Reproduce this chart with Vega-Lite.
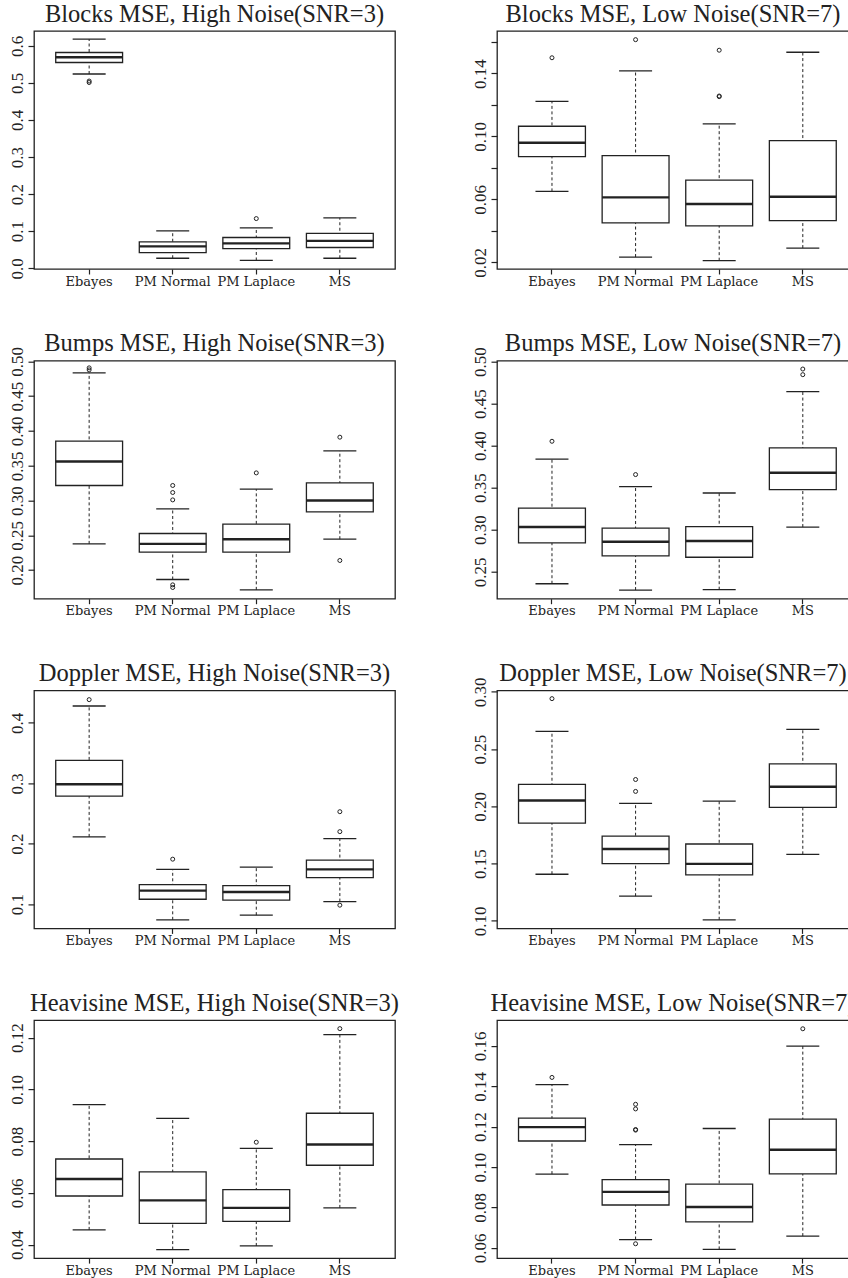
{
  "$schema": "https://vega.github.io/schema/vega-lite/v6.json",
  "padding": {"left": 7, "top": 0, "right": 0, "bottom": 0},
  "background": "white",
  "columns": 2,
  "bounds": "flush",
  "spacing": {"row": 91.7, "column": 102},
  "config": {
    "font": "Liberation Serif",
    "view": {"stroke": "#222", "strokeWidth": 1.3},
    "title": {"font": "Liberation Serif", "fontSize": 24.5, "fontWeight": "normal", "color": "#222", "offset": 4, "anchor": "middle"},
    "axis": {"domain": false, "grid": false, "tickColor": "#222", "tickSize": 5, "tickWidth": 1.2, "labelColor": "#222", "labelFont": "Liberation Serif", "title": null},
    "axisX": {"labelAngle": 0, "labelFont": "DejaVu Serif", "labelFontSize": 13, "labelPadding": 1, "bandPosition": 0.5},
    "axisY": {"labelAngle": 270, "labelAlign": "center", "labelBaseline": "bottom", "labelFontSize": 17, "labelPadding": 2, "tickSize": 6, "labelOverlap": false, "labelBound": false}
  },
  "datasets": {
    "box": [
      {"p": "bh", "m": "Ebayes", "lo": 0.524, "q1": 0.555, "md": 0.569, "q3": 0.582, "hi": 0.618},
      {"p": "bh", "m": "PM Normal", "lo": 0.027, "q1": 0.042, "md": 0.059, "q3": 0.071, "hi": 0.101},
      {"p": "bh", "m": "PM Laplace", "lo": 0.021, "q1": 0.053, "md": 0.067, "q3": 0.083, "hi": 0.109},
      {"p": "bh", "m": "MS", "lo": 0.027, "q1": 0.056, "md": 0.074, "q3": 0.094, "hi": 0.136},
      {"p": "bl", "m": "Ebayes", "lo": 0.0651, "q1": 0.0872, "md": 0.096, "q3": 0.1065, "hi": 0.1223},
      {"p": "bl", "m": "PM Normal", "lo": 0.0234, "q1": 0.0451, "md": 0.0613, "q3": 0.0878, "hi": 0.1417},
      {"p": "bl", "m": "PM Laplace", "lo": 0.0211, "q1": 0.0432, "md": 0.0571, "q3": 0.0722, "hi": 0.108},
      {"p": "bl", "m": "MS", "lo": 0.0291, "q1": 0.0465, "md": 0.0617, "q3": 0.0973, "hi": 0.1535},
      {"p": "uh", "m": "Ebayes", "lo": 0.2378, "q1": 0.3217, "md": 0.3562, "q3": 0.3853, "hi": 0.4835},
      {"p": "uh", "m": "PM Normal", "lo": 0.1866, "q1": 0.2259, "md": 0.2378, "q3": 0.2527, "hi": 0.2881},
      {"p": "uh", "m": "PM Laplace", "lo": 0.1717, "q1": 0.2259, "md": 0.2445, "q3": 0.2661, "hi": 0.3164},
      {"p": "uh", "m": "MS", "lo": 0.2445, "q1": 0.2838, "md": 0.3001, "q3": 0.3254, "hi": 0.3714},
      {"p": "ul", "m": "Ebayes", "lo": 0.2358, "q1": 0.2843, "md": 0.3032, "q3": 0.3257, "hi": 0.3839},
      {"p": "ul", "m": "PM Normal", "lo": 0.2283, "q1": 0.2689, "md": 0.2858, "q3": 0.302, "hi": 0.3512},
      {"p": "ul", "m": "PM Laplace", "lo": 0.2287, "q1": 0.2673, "md": 0.2866, "q3": 0.3036, "hi": 0.3437},
      {"p": "ul", "m": "MS", "lo": 0.3032, "q1": 0.3476, "md": 0.3677, "q3": 0.3973, "hi": 0.4643},
      {"p": "dh", "m": "Ebayes", "lo": 0.2113, "q1": 0.2788, "md": 0.2985, "q3": 0.338, "hi": 0.4278},
      {"p": "dh", "m": "PM Normal", "lo": 0.0742, "q1": 0.1082, "md": 0.1225, "q3": 0.1324, "hi": 0.1576},
      {"p": "dh", "m": "PM Laplace", "lo": 0.0819, "q1": 0.1066, "md": 0.1203, "q3": 0.1307, "hi": 0.1614},
      {"p": "dh", "m": "MS", "lo": 0.1044, "q1": 0.1439, "md": 0.1576, "q3": 0.1729, "hi": 0.2086},
      {"p": "dl", "m": "Ebayes", "lo": 0.1407, "q1": 0.1854, "md": 0.2051, "q3": 0.2191, "hi": 0.2655},
      {"p": "dl", "m": "PM Normal", "lo": 0.1215, "q1": 0.15, "md": 0.1627, "q3": 0.174, "hi": 0.2025},
      {"p": "dl", "m": "PM Laplace", "lo": 0.1009, "q1": 0.1401, "md": 0.1497, "q3": 0.1671, "hi": 0.2045},
      {"p": "dl", "m": "MS", "lo": 0.1581, "q1": 0.199, "md": 0.2171, "q3": 0.2371, "hi": 0.2672},
      {"p": "hh", "m": "Ebayes", "lo": 0.0457, "q1": 0.0588, "md": 0.0654, "q3": 0.0731, "hi": 0.0941},
      {"p": "hh", "m": "PM Normal", "lo": 0.0381, "q1": 0.0482, "md": 0.0571, "q3": 0.0681, "hi": 0.0888},
      {"p": "hh", "m": "PM Laplace", "lo": 0.0395, "q1": 0.049, "md": 0.0542, "q3": 0.0613, "hi": 0.0772},
      {"p": "hh", "m": "MS", "lo": 0.0542, "q1": 0.0707, "md": 0.0787, "q3": 0.0908, "hi": 0.1212},
      {"p": "hl", "m": "Ebayes", "lo": 0.0965, "q1": 0.1129, "md": 0.1198, "q3": 0.1242, "hi": 0.1408},
      {"p": "hl", "m": "PM Normal", "lo": 0.0641, "q1": 0.0812, "md": 0.0877, "q3": 0.0938, "hi": 0.1111},
      {"p": "hl", "m": "PM Laplace", "lo": 0.0592, "q1": 0.0728, "md": 0.0802, "q3": 0.0915, "hi": 0.1191},
      {"p": "hl", "m": "MS", "lo": 0.0658, "q1": 0.0966, "md": 0.1086, "q3": 0.1237, "hi": 0.1599}
    ],
    "out": [
      {"p": "bh", "m": "Ebayes", "v": 0.505},
      {"p": "bh", "m": "Ebayes", "v": 0.501},
      {"p": "bh", "m": "PM Laplace", "v": 0.134},
      {"p": "bl", "m": "Ebayes", "v": 0.150},
      {"p": "bl", "m": "PM Normal", "v": 0.1615},
      {"p": "bl", "m": "PM Laplace", "v": 0.1548},
      {"p": "bl", "m": "PM Laplace", "v": 0.1253},
      {"p": "bl", "m": "PM Laplace", "v": 0.1257},
      {"p": "uh", "m": "Ebayes", "v": 0.4907},
      {"p": "uh", "m": "Ebayes", "v": 0.4878},
      {"p": "uh", "m": "PM Normal", "v": 0.3217},
      {"p": "uh", "m": "PM Normal", "v": 0.3116},
      {"p": "uh", "m": "PM Normal", "v": 0.301},
      {"p": "uh", "m": "PM Normal", "v": 0.1789},
      {"p": "uh", "m": "PM Normal", "v": 0.1751},
      {"p": "uh", "m": "PM Laplace", "v": 0.3398},
      {"p": "uh", "m": "MS", "v": 0.3911},
      {"p": "uh", "m": "MS", "v": 0.2139},
      {"p": "ul", "m": "Ebayes", "v": 0.4052},
      {"p": "ul", "m": "PM Normal", "v": 0.3656},
      {"p": "ul", "m": "MS", "v": 0.4911},
      {"p": "ul", "m": "MS", "v": 0.4844},
      {"p": "dh", "m": "Ebayes", "v": 0.4383},
      {"p": "dh", "m": "PM Normal", "v": 0.1745},
      {"p": "dh", "m": "MS", "v": 0.253},
      {"p": "dh", "m": "MS", "v": 0.220},
      {"p": "dh", "m": "MS", "v": 0.0984},
      {"p": "dl", "m": "Ebayes", "v": 0.294},
      {"p": "dl", "m": "PM Normal", "v": 0.2234},
      {"p": "dl", "m": "PM Normal", "v": 0.213},
      {"p": "hh", "m": "PM Laplace", "v": 0.0796},
      {"p": "hh", "m": "MS", "v": 0.1235},
      {"p": "hl", "m": "Ebayes", "v": 0.1444},
      {"p": "hl", "m": "PM Normal", "v": 0.1311},
      {"p": "hl", "m": "PM Normal", "v": 0.1288},
      {"p": "hl", "m": "PM Normal", "v": 0.1186},
      {"p": "hl", "m": "PM Normal", "v": 0.1183},
      {"p": "hl", "m": "PM Normal", "v": 0.062},
      {"p": "hl", "m": "MS", "v": 0.1685}
    ]
  },
  "concat": [
    {
      "title": "Blocks MSE, High Noise(SNR=3)",
      "width": 361, "height": 238,
      "encoding": {"x": {"field": "m", "type": "nominal", "title": null, "scale": {"domain": ["Ebayes", "PM Normal", "PM Laplace", "MS"], "paddingInner": 0, "paddingOuter": 0.16}}},
      "layer": [
        {"data": {"name": "box"}, "transform": [{"filter": "datum.p=='bh'"}], "mark": {"type": "rule", "strokeDash": [3, 2.5], "color": "#222"}, "encoding": {"y": {"field": "lo", "type": "quantitative", "title": null, "scale": {"domain": [-0.002, 0.64], "nice": false, "zero": false}, "axis": {"values": [0, 0.1, 0.2, 0.3, 0.4, 0.5, 0.6], "format": ".1f", "labelOverlap": false}}, "y2": {"field": "hi"}}},
        {"data": {"name": "box"}, "transform": [{"filter": "datum.p=='bh'"}, {"fold": ["lo", "hi"], "as": ["k", "v"]}], "mark": {"type": "tick", "size": 33, "thickness": 1.3, "color": "#222", "opacity": 1}, "encoding": {"y": {"field": "v", "type": "quantitative", "title": null, "scale": {"domain": [-0.002, 0.64], "nice": false, "zero": false}, "axis": {"values": [0, 0.1, 0.2, 0.3, 0.4, 0.5, 0.6], "format": ".1f", "labelOverlap": false}}}},
        {"data": {"name": "box"}, "transform": [{"filter": "datum.p=='bh'"}], "mark": {"type": "bar", "fill": "white", "stroke": "#222", "strokeWidth": 1.3, "width": {"band": 0.8}}, "encoding": {"y": {"field": "q1", "type": "quantitative", "title": null, "scale": {"domain": [-0.002, 0.64], "nice": false, "zero": false}, "axis": {"values": [0, 0.1, 0.2, 0.3, 0.4, 0.5, 0.6], "format": ".1f", "labelOverlap": false}}, "y2": {"field": "q3"}}},
        {"data": {"name": "box"}, "transform": [{"filter": "datum.p=='bh'"}], "mark": {"type": "tick", "size": 67, "thickness": 2.4, "color": "#222", "opacity": 1}, "encoding": {"y": {"field": "md", "type": "quantitative", "title": null, "scale": {"domain": [-0.002, 0.64], "nice": false, "zero": false}, "axis": {"values": [0, 0.1, 0.2, 0.3, 0.4, 0.5, 0.6], "format": ".1f", "labelOverlap": false}}}},
        {"data": {"name": "out"}, "transform": [{"filter": "datum.p=='bh'"}], "mark": {"type": "point", "shape": "circle", "filled": false, "size": 16, "strokeWidth": 1, "color": "#222", "opacity": 1}, "encoding": {"y": {"field": "v", "type": "quantitative", "title": null, "scale": {"domain": [-0.002, 0.64], "nice": false, "zero": false}, "axis": {"values": [0, 0.1, 0.2, 0.3, 0.4, 0.5, 0.6], "format": ".1f", "labelOverlap": false}}}}
      ]
    },
    {
      "title": "Blocks MSE, Low Noise(SNR=7)",
      "width": 352, "height": 238,
      "encoding": {"x": {"field": "m", "type": "nominal", "title": null, "scale": {"domain": ["Ebayes", "PM Normal", "PM Laplace", "MS"], "paddingInner": 0, "paddingOuter": 0.105, "align": 0.75}}},
      "layer": [
        {"data": {"name": "box"}, "transform": [{"filter": "datum.p=='bl'"}], "mark": {"type": "rule", "strokeDash": [3, 2.5], "color": "#222"}, "encoding": {"y": {"field": "lo", "type": "quantitative", "title": null, "scale": {"domain": [0.0158, 0.167], "nice": false, "zero": false}, "axis": {"values": [0.02, 0.04, 0.06, 0.08, 0.1, 0.12, 0.14, 0.16], "format": ".2f", "labelOverlap": false, "labelExpr": "round(datum.value*100) % 4 == 2 ? datum.label : ''"}}, "y2": {"field": "hi"}}},
        {"data": {"name": "box"}, "transform": [{"filter": "datum.p=='bl'"}, {"fold": ["lo", "hi"], "as": ["k", "v"]}], "mark": {"type": "tick", "size": 33, "thickness": 1.3, "color": "#222", "opacity": 1}, "encoding": {"y": {"field": "v", "type": "quantitative", "title": null, "scale": {"domain": [0.0158, 0.167], "nice": false, "zero": false}, "axis": {"values": [0.02, 0.04, 0.06, 0.08, 0.1, 0.12, 0.14, 0.16], "format": ".2f", "labelOverlap": false, "labelExpr": "round(datum.value*100) % 4 == 2 ? datum.label : ''"}}}},
        {"data": {"name": "box"}, "transform": [{"filter": "datum.p=='bl'"}], "mark": {"type": "bar", "fill": "white", "stroke": "#222", "strokeWidth": 1.3, "width": {"band": 0.8}}, "encoding": {"y": {"field": "q1", "type": "quantitative", "title": null, "scale": {"domain": [0.0158, 0.167], "nice": false, "zero": false}, "axis": {"values": [0.02, 0.04, 0.06, 0.08, 0.1, 0.12, 0.14, 0.16], "format": ".2f", "labelOverlap": false, "labelExpr": "round(datum.value*100) % 4 == 2 ? datum.label : ''"}}, "y2": {"field": "q3"}}},
        {"data": {"name": "box"}, "transform": [{"filter": "datum.p=='bl'"}], "mark": {"type": "tick", "size": 67, "thickness": 2.4, "color": "#222", "opacity": 1}, "encoding": {"y": {"field": "md", "type": "quantitative", "title": null, "scale": {"domain": [0.0158, 0.167], "nice": false, "zero": false}, "axis": {"values": [0.02, 0.04, 0.06, 0.08, 0.1, 0.12, 0.14, 0.16], "format": ".2f", "labelOverlap": false, "labelExpr": "round(datum.value*100) % 4 == 2 ? datum.label : ''"}}}},
        {"data": {"name": "out"}, "transform": [{"filter": "datum.p=='bl'"}], "mark": {"type": "point", "shape": "circle", "filled": false, "size": 16, "strokeWidth": 1, "color": "#222", "opacity": 1}, "encoding": {"y": {"field": "v", "type": "quantitative", "title": null, "scale": {"domain": [0.0158, 0.167], "nice": false, "zero": false}, "axis": {"values": [0.02, 0.04, 0.06, 0.08, 0.1, 0.12, 0.14, 0.16], "format": ".2f", "labelOverlap": false, "labelExpr": "round(datum.value*100) % 4 == 2 ? datum.label : ''"}}}}
      ]
    },
    {
      "title": {"text": "Bumps MSE, High Noise(SNR=3)", "offset": -10},
      "width": 361, "height": 238,
      "encoding": {"x": {"field": "m", "type": "nominal", "title": null, "scale": {"domain": ["Ebayes", "PM Normal", "PM Laplace", "MS"], "paddingInner": 0, "paddingOuter": 0.16}}},
      "layer": [
        {"data": {"name": "box"}, "transform": [{"filter": "datum.p=='uh'"}], "mark": {"type": "rule", "strokeDash": [3, 2.5], "color": "#222"}, "encoding": {"y": {"field": "lo", "type": "quantitative", "title": null, "scale": {"domain": [0.159, 0.501], "nice": false, "zero": false}, "axis": {"values": [0.2, 0.25, 0.3, 0.35, 0.4, 0.45, 0.5], "format": ".2f", "labelOverlap": false}}, "y2": {"field": "hi"}}},
        {"data": {"name": "box"}, "transform": [{"filter": "datum.p=='uh'"}, {"fold": ["lo", "hi"], "as": ["k", "v"]}], "mark": {"type": "tick", "size": 33, "thickness": 1.3, "color": "#222", "opacity": 1}, "encoding": {"y": {"field": "v", "type": "quantitative", "title": null, "scale": {"domain": [0.159, 0.501], "nice": false, "zero": false}, "axis": {"values": [0.2, 0.25, 0.3, 0.35, 0.4, 0.45, 0.5], "format": ".2f", "labelOverlap": false}}}},
        {"data": {"name": "box"}, "transform": [{"filter": "datum.p=='uh'"}], "mark": {"type": "bar", "fill": "white", "stroke": "#222", "strokeWidth": 1.3, "width": {"band": 0.8}}, "encoding": {"y": {"field": "q1", "type": "quantitative", "title": null, "scale": {"domain": [0.159, 0.501], "nice": false, "zero": false}, "axis": {"values": [0.2, 0.25, 0.3, 0.35, 0.4, 0.45, 0.5], "format": ".2f", "labelOverlap": false}}, "y2": {"field": "q3"}}},
        {"data": {"name": "box"}, "transform": [{"filter": "datum.p=='uh'"}], "mark": {"type": "tick", "size": 67, "thickness": 2.4, "color": "#222", "opacity": 1}, "encoding": {"y": {"field": "md", "type": "quantitative", "title": null, "scale": {"domain": [0.159, 0.501], "nice": false, "zero": false}, "axis": {"values": [0.2, 0.25, 0.3, 0.35, 0.4, 0.45, 0.5], "format": ".2f", "labelOverlap": false}}}},
        {"data": {"name": "out"}, "transform": [{"filter": "datum.p=='uh'"}], "mark": {"type": "point", "shape": "circle", "filled": false, "size": 16, "strokeWidth": 1, "color": "#222", "opacity": 1}, "encoding": {"y": {"field": "v", "type": "quantitative", "title": null, "scale": {"domain": [0.159, 0.501], "nice": false, "zero": false}, "axis": {"values": [0.2, 0.25, 0.3, 0.35, 0.4, 0.45, 0.5], "format": ".2f", "labelOverlap": false}}}}
      ]
    },
    {
      "title": {"text": "Bumps MSE, Low Noise(SNR=7)", "offset": -10},
      "width": 352, "height": 238,
      "encoding": {"x": {"field": "m", "type": "nominal", "title": null, "scale": {"domain": ["Ebayes", "PM Normal", "PM Laplace", "MS"], "paddingInner": 0, "paddingOuter": 0.105, "align": 0.75}}},
      "layer": [
        {"data": {"name": "box"}, "transform": [{"filter": "datum.p=='ul'"}], "mark": {"type": "rule", "strokeDash": [3, 2.5], "color": "#222"}, "encoding": {"y": {"field": "lo", "type": "quantitative", "title": null, "scale": {"domain": [0.218, 0.501], "nice": false, "zero": false}, "axis": {"values": [0.25, 0.3, 0.35, 0.4, 0.45, 0.5], "format": ".2f", "labelOverlap": false}}, "y2": {"field": "hi"}}},
        {"data": {"name": "box"}, "transform": [{"filter": "datum.p=='ul'"}, {"fold": ["lo", "hi"], "as": ["k", "v"]}], "mark": {"type": "tick", "size": 33, "thickness": 1.3, "color": "#222", "opacity": 1}, "encoding": {"y": {"field": "v", "type": "quantitative", "title": null, "scale": {"domain": [0.218, 0.501], "nice": false, "zero": false}, "axis": {"values": [0.25, 0.3, 0.35, 0.4, 0.45, 0.5], "format": ".2f", "labelOverlap": false}}}},
        {"data": {"name": "box"}, "transform": [{"filter": "datum.p=='ul'"}], "mark": {"type": "bar", "fill": "white", "stroke": "#222", "strokeWidth": 1.3, "width": {"band": 0.8}}, "encoding": {"y": {"field": "q1", "type": "quantitative", "title": null, "scale": {"domain": [0.218, 0.501], "nice": false, "zero": false}, "axis": {"values": [0.25, 0.3, 0.35, 0.4, 0.45, 0.5], "format": ".2f", "labelOverlap": false}}, "y2": {"field": "q3"}}},
        {"data": {"name": "box"}, "transform": [{"filter": "datum.p=='ul'"}], "mark": {"type": "tick", "size": 67, "thickness": 2.4, "color": "#222", "opacity": 1}, "encoding": {"y": {"field": "md", "type": "quantitative", "title": null, "scale": {"domain": [0.218, 0.501], "nice": false, "zero": false}, "axis": {"values": [0.25, 0.3, 0.35, 0.4, 0.45, 0.5], "format": ".2f", "labelOverlap": false}}}},
        {"data": {"name": "out"}, "transform": [{"filter": "datum.p=='ul'"}], "mark": {"type": "point", "shape": "circle", "filled": false, "size": 16, "strokeWidth": 1, "color": "#222", "opacity": 1}, "encoding": {"y": {"field": "v", "type": "quantitative", "title": null, "scale": {"domain": [0.218, 0.501], "nice": false, "zero": false}, "axis": {"values": [0.25, 0.3, 0.35, 0.4, 0.45, 0.5], "format": ".2f", "labelOverlap": false}}}}
      ]
    },
    {
      "title": "Doppler MSE, High Noise(SNR=3)",
      "width": 361, "height": 238,
      "encoding": {"x": {"field": "m", "type": "nominal", "title": null, "scale": {"domain": ["Ebayes", "PM Normal", "PM Laplace", "MS"], "paddingInner": 0, "paddingOuter": 0.16}}},
      "layer": [
        {"data": {"name": "box"}, "transform": [{"filter": "datum.p=='dh'"}], "mark": {"type": "rule", "strokeDash": [3, 2.5], "color": "#222"}, "encoding": {"y": {"field": "lo", "type": "quantitative", "title": null, "scale": {"domain": [0.06, 0.4536], "nice": false, "zero": false}, "axis": {"values": [0.1, 0.2, 0.3, 0.4], "format": ".1f", "labelOverlap": false}}, "y2": {"field": "hi"}}},
        {"data": {"name": "box"}, "transform": [{"filter": "datum.p=='dh'"}, {"fold": ["lo", "hi"], "as": ["k", "v"]}], "mark": {"type": "tick", "size": 33, "thickness": 1.3, "color": "#222", "opacity": 1}, "encoding": {"y": {"field": "v", "type": "quantitative", "title": null, "scale": {"domain": [0.06, 0.4536], "nice": false, "zero": false}, "axis": {"values": [0.1, 0.2, 0.3, 0.4], "format": ".1f", "labelOverlap": false}}}},
        {"data": {"name": "box"}, "transform": [{"filter": "datum.p=='dh'"}], "mark": {"type": "bar", "fill": "white", "stroke": "#222", "strokeWidth": 1.3, "width": {"band": 0.8}}, "encoding": {"y": {"field": "q1", "type": "quantitative", "title": null, "scale": {"domain": [0.06, 0.4536], "nice": false, "zero": false}, "axis": {"values": [0.1, 0.2, 0.3, 0.4], "format": ".1f", "labelOverlap": false}}, "y2": {"field": "q3"}}},
        {"data": {"name": "box"}, "transform": [{"filter": "datum.p=='dh'"}], "mark": {"type": "tick", "size": 67, "thickness": 2.4, "color": "#222", "opacity": 1}, "encoding": {"y": {"field": "md", "type": "quantitative", "title": null, "scale": {"domain": [0.06, 0.4536], "nice": false, "zero": false}, "axis": {"values": [0.1, 0.2, 0.3, 0.4], "format": ".1f", "labelOverlap": false}}}},
        {"data": {"name": "out"}, "transform": [{"filter": "datum.p=='dh'"}], "mark": {"type": "point", "shape": "circle", "filled": false, "size": 16, "strokeWidth": 1, "color": "#222", "opacity": 1}, "encoding": {"y": {"field": "v", "type": "quantitative", "title": null, "scale": {"domain": [0.06, 0.4536], "nice": false, "zero": false}, "axis": {"values": [0.1, 0.2, 0.3, 0.4], "format": ".1f", "labelOverlap": false}}}}
      ]
    },
    {
      "title": {"text": "Doppler MSE, Low Noise(SNR=7)", "offset": -9.5},
      "width": 352, "height": 238,
      "encoding": {"x": {"field": "m", "type": "nominal", "title": null, "scale": {"domain": ["Ebayes", "PM Normal", "PM Laplace", "MS"], "paddingInner": 0, "paddingOuter": 0.105, "align": 0.75}}},
      "layer": [
        {"data": {"name": "box"}, "transform": [{"filter": "datum.p=='dl'"}], "mark": {"type": "rule", "strokeDash": [3, 2.5], "color": "#222"}, "encoding": {"y": {"field": "lo", "type": "quantitative", "title": null, "scale": {"domain": [0.0934, 0.3012], "nice": false, "zero": false}, "axis": {"values": [0.1, 0.15, 0.2, 0.25, 0.3], "format": ".2f", "labelOverlap": false}}, "y2": {"field": "hi"}}},
        {"data": {"name": "box"}, "transform": [{"filter": "datum.p=='dl'"}, {"fold": ["lo", "hi"], "as": ["k", "v"]}], "mark": {"type": "tick", "size": 33, "thickness": 1.3, "color": "#222", "opacity": 1}, "encoding": {"y": {"field": "v", "type": "quantitative", "title": null, "scale": {"domain": [0.0934, 0.3012], "nice": false, "zero": false}, "axis": {"values": [0.1, 0.15, 0.2, 0.25, 0.3], "format": ".2f", "labelOverlap": false}}}},
        {"data": {"name": "box"}, "transform": [{"filter": "datum.p=='dl'"}], "mark": {"type": "bar", "fill": "white", "stroke": "#222", "strokeWidth": 1.3, "width": {"band": 0.8}}, "encoding": {"y": {"field": "q1", "type": "quantitative", "title": null, "scale": {"domain": [0.0934, 0.3012], "nice": false, "zero": false}, "axis": {"values": [0.1, 0.15, 0.2, 0.25, 0.3], "format": ".2f", "labelOverlap": false}}, "y2": {"field": "q3"}}},
        {"data": {"name": "box"}, "transform": [{"filter": "datum.p=='dl'"}], "mark": {"type": "tick", "size": 67, "thickness": 2.4, "color": "#222", "opacity": 1}, "encoding": {"y": {"field": "md", "type": "quantitative", "title": null, "scale": {"domain": [0.0934, 0.3012], "nice": false, "zero": false}, "axis": {"values": [0.1, 0.15, 0.2, 0.25, 0.3], "format": ".2f", "labelOverlap": false}}}},
        {"data": {"name": "out"}, "transform": [{"filter": "datum.p=='dl'"}], "mark": {"type": "point", "shape": "circle", "filled": false, "size": 16, "strokeWidth": 1, "color": "#222", "opacity": 1}, "encoding": {"y": {"field": "v", "type": "quantitative", "title": null, "scale": {"domain": [0.0934, 0.3012], "nice": false, "zero": false}, "axis": {"values": [0.1, 0.15, 0.2, 0.25, 0.3], "format": ".2f", "labelOverlap": false}}}}
      ]
    },
    {
      "title": "Heavisine MSE, High Noise(SNR=3)",
      "width": 361, "height": 238,
      "encoding": {"x": {"field": "m", "type": "nominal", "title": null, "scale": {"domain": ["Ebayes", "PM Normal", "PM Laplace", "MS"], "paddingInner": 0, "paddingOuter": 0.16}}},
      "layer": [
        {"data": {"name": "box"}, "transform": [{"filter": "datum.p=='hh'"}], "mark": {"type": "rule", "strokeDash": [3, 2.5], "color": "#222"}, "encoding": {"y": {"field": "lo", "type": "quantitative", "title": null, "scale": {"domain": [0.0348, 0.1268], "nice": false, "zero": false}, "axis": {"values": [0.04, 0.06, 0.08, 0.1, 0.12], "format": ".2f", "labelOverlap": false}}, "y2": {"field": "hi"}}},
        {"data": {"name": "box"}, "transform": [{"filter": "datum.p=='hh'"}, {"fold": ["lo", "hi"], "as": ["k", "v"]}], "mark": {"type": "tick", "size": 33, "thickness": 1.3, "color": "#222", "opacity": 1}, "encoding": {"y": {"field": "v", "type": "quantitative", "title": null, "scale": {"domain": [0.0348, 0.1268], "nice": false, "zero": false}, "axis": {"values": [0.04, 0.06, 0.08, 0.1, 0.12], "format": ".2f", "labelOverlap": false}}}},
        {"data": {"name": "box"}, "transform": [{"filter": "datum.p=='hh'"}], "mark": {"type": "bar", "fill": "white", "stroke": "#222", "strokeWidth": 1.3, "width": {"band": 0.8}}, "encoding": {"y": {"field": "q1", "type": "quantitative", "title": null, "scale": {"domain": [0.0348, 0.1268], "nice": false, "zero": false}, "axis": {"values": [0.04, 0.06, 0.08, 0.1, 0.12], "format": ".2f", "labelOverlap": false}}, "y2": {"field": "q3"}}},
        {"data": {"name": "box"}, "transform": [{"filter": "datum.p=='hh'"}], "mark": {"type": "tick", "size": 67, "thickness": 2.4, "color": "#222", "opacity": 1}, "encoding": {"y": {"field": "md", "type": "quantitative", "title": null, "scale": {"domain": [0.0348, 0.1268], "nice": false, "zero": false}, "axis": {"values": [0.04, 0.06, 0.08, 0.1, 0.12], "format": ".2f", "labelOverlap": false}}}},
        {"data": {"name": "out"}, "transform": [{"filter": "datum.p=='hh'"}], "mark": {"type": "point", "shape": "circle", "filled": false, "size": 16, "strokeWidth": 1, "color": "#222", "opacity": 1}, "encoding": {"y": {"field": "v", "type": "quantitative", "title": null, "scale": {"domain": [0.0348, 0.1268], "nice": false, "zero": false}, "axis": {"values": [0.04, 0.06, 0.08, 0.1, 0.12], "format": ".2f", "labelOverlap": false}}}}
      ]
    },
    {
      "title": "Heavisine MSE, Low Noise(SNR=7)",
      "width": 352, "height": 238,
      "encoding": {"x": {"field": "m", "type": "nominal", "title": null, "scale": {"domain": ["Ebayes", "PM Normal", "PM Laplace", "MS"], "paddingInner": 0, "paddingOuter": 0.105, "align": 0.75}}},
      "layer": [
        {"data": {"name": "box"}, "transform": [{"filter": "datum.p=='hl'"}], "mark": {"type": "rule", "strokeDash": [3, 2.5], "color": "#222"}, "encoding": {"y": {"field": "lo", "type": "quantitative", "title": null, "scale": {"domain": [0.0549, 0.1728], "nice": false, "zero": false}, "axis": {"values": [0.06, 0.08, 0.1, 0.12, 0.14, 0.16], "format": ".2f", "labelOverlap": false}}, "y2": {"field": "hi"}}},
        {"data": {"name": "box"}, "transform": [{"filter": "datum.p=='hl'"}, {"fold": ["lo", "hi"], "as": ["k", "v"]}], "mark": {"type": "tick", "size": 33, "thickness": 1.3, "color": "#222", "opacity": 1}, "encoding": {"y": {"field": "v", "type": "quantitative", "title": null, "scale": {"domain": [0.0549, 0.1728], "nice": false, "zero": false}, "axis": {"values": [0.06, 0.08, 0.1, 0.12, 0.14, 0.16], "format": ".2f", "labelOverlap": false}}}},
        {"data": {"name": "box"}, "transform": [{"filter": "datum.p=='hl'"}], "mark": {"type": "bar", "fill": "white", "stroke": "#222", "strokeWidth": 1.3, "width": {"band": 0.8}}, "encoding": {"y": {"field": "q1", "type": "quantitative", "title": null, "scale": {"domain": [0.0549, 0.1728], "nice": false, "zero": false}, "axis": {"values": [0.06, 0.08, 0.1, 0.12, 0.14, 0.16], "format": ".2f", "labelOverlap": false}}, "y2": {"field": "q3"}}},
        {"data": {"name": "box"}, "transform": [{"filter": "datum.p=='hl'"}], "mark": {"type": "tick", "size": 67, "thickness": 2.4, "color": "#222", "opacity": 1}, "encoding": {"y": {"field": "md", "type": "quantitative", "title": null, "scale": {"domain": [0.0549, 0.1728], "nice": false, "zero": false}, "axis": {"values": [0.06, 0.08, 0.1, 0.12, 0.14, 0.16], "format": ".2f", "labelOverlap": false}}}},
        {"data": {"name": "out"}, "transform": [{"filter": "datum.p=='hl'"}], "mark": {"type": "point", "shape": "circle", "filled": false, "size": 16, "strokeWidth": 1, "color": "#222", "opacity": 1}, "encoding": {"y": {"field": "v", "type": "quantitative", "title": null, "scale": {"domain": [0.0549, 0.1728], "nice": false, "zero": false}, "axis": {"values": [0.06, 0.08, 0.1, 0.12, 0.14, 0.16], "format": ".2f", "labelOverlap": false}}}}
      ]
    }
  ]
}
